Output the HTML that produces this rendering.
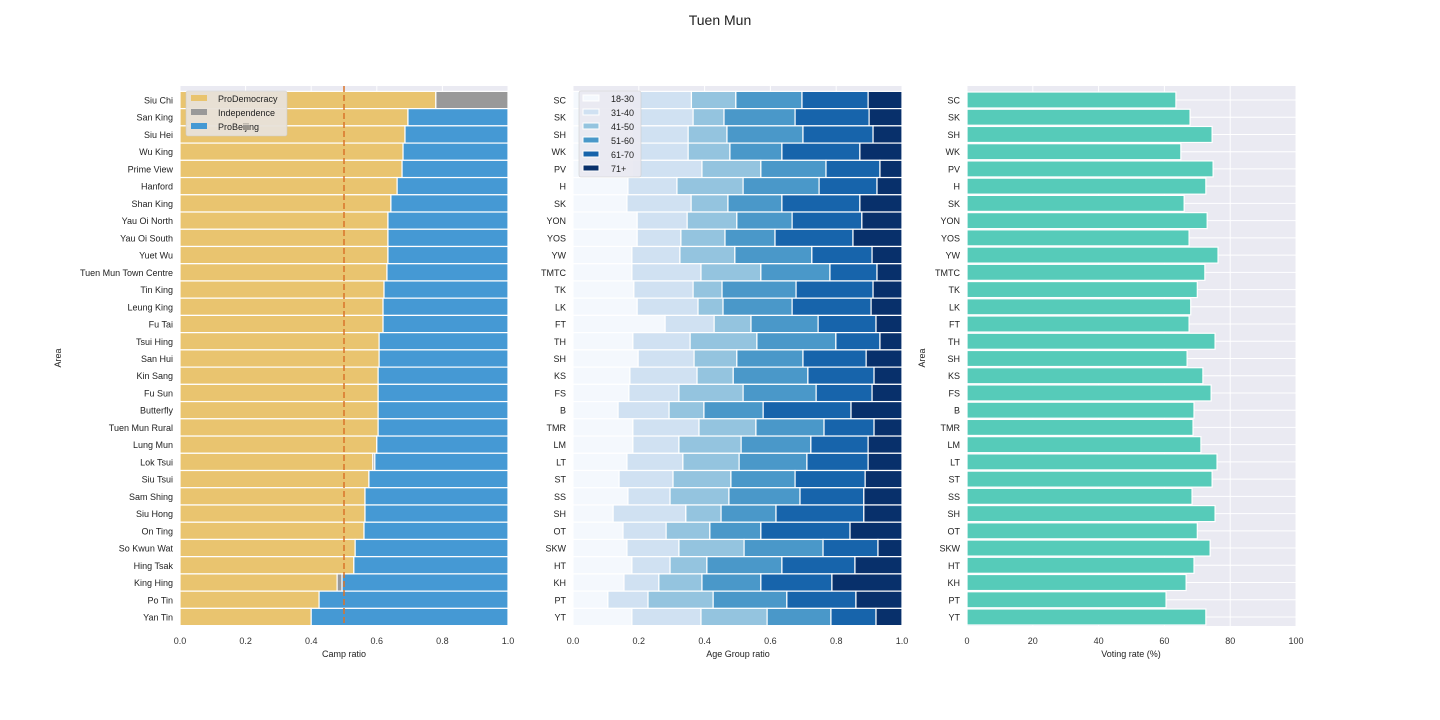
<!DOCTYPE html>
<html><head><meta charset="utf-8"><style>
body{margin:0;background:#fff;}
svg{display:block;font-family:"Liberation Sans",Arial,sans-serif;}
</style></head><body>
<svg id="chart" width="1440" height="720" xmlns="http://www.w3.org/2000/svg">
<text x="720" y="25" text-anchor="middle" font-size="14" fill="#222">Tuen Mun</text>
</svg>
<script>
const areas=["Siu Chi","San King","Siu Hei","Wu King","Prime View","Hanford","Shan King","Yau Oi North","Yau Oi South","Yuet Wu","Tuen Mun Town Centre","Tin King","Leung King","Fu Tai","Tsui Hing","San Hui","Kin Sang","Fu Sun","Butterfly","Tuen Mun Rural","Lung Mun","Lok Tsui","Siu Tsui","Sam Shing","Siu Hong","On Ting","So Kwun Wat","Hing Tsak","King Hing","Po Tin","Yan Tin"];
const codes=["SC","SK","SH","WK","PV","H","SK","YON","YOS","YW","TMTC","TK","LK","FT","TH","SH","KS","FS","B","TMR","LM","LT","ST","SS","SH","OT","SKW","HT","KH","PT","YT"];
const proDemocracy=[.78,.695,.686,.68,.677,.662,.643,.634,.634,.634,.631,.622,.619,.619,.607,.607,.604,.604,.604,.604,.60,.588,.576,.564,.564,.561,.534,.53,.479,.424,.40];
const independence=[.22,0,0,0,0,0,0,0,0,0,0,0,0,0,0,0,0,0,0,0,0,.006,0,0,0,0,0,0,.015,0,0];
const age1830=[.18,.18,.18,.18,.18,.167,.164,.195,.195,.179,.179,.185,.195,.28,.182,.198,.173,.170,.137,.182,.182,.164,.140,.167,.122,.152,.164,.179,.155,.106,.179];
const age3140=[.18,.185,.17,.17,.212,.149,.195,.152,.133,.146,.21,.18,.185,.149,.174,.17,.204,.152,.155,.201,.14,.17,.164,.128,.221,.131,.158,.116,.106,.122,.21];
const age4150=[.135,.094,.118,.127,.179,.201,.112,.151,.134,.167,.182,.088,.076,.112,.203,.13,.11,.195,.106,.173,.189,.171,.176,.179,.107,.133,.198,.112,.131,.198,.201];
const age5160=[.201,.216,.231,.158,.198,.231,.164,.168,.152,.234,.21,.225,.21,.204,.24,.201,.227,.222,.18,.207,.212,.206,.195,.216,.167,.155,.24,.228,.179,.224,.194];
const age6170=[.201,.225,.213,.237,.164,.176,.237,.212,.237,.183,.143,.234,.24,.176,.134,.192,.201,.17,.267,.152,.174,.186,.213,.194,.267,.271,.167,.222,.216,.21,.137];
const voting=[63.5,67.8,74.5,65,74.8,72.6,66,73,67.5,76.3,72.3,70,68,67.5,75.4,66.9,71.7,74.2,69,68.7,71.1,76,74.5,68.4,75.4,70,73.9,69,66.6,60.5,72.6];
const ratioTicks=[0,0.2,0.4,0.6,0.8,1.0];
const voteTicks=[0,20,40,60,80,100];
const ageLabels=["18-30","31-40","41-50","51-60","61-70","71+"];
const campLabels=["ProDemocracy","Independence","ProBeijing"];

const svg=document.getElementById('chart');
const NS='http://www.w3.org/2000/svg';
function mk(tag,attrs,parent){const e=document.createElementNS(NS,tag);for(const k in attrs)e.setAttribute(k,attrs[k]);(parent||svg).appendChild(e);return e;}
const axTop=86,axBot=626,pitch=17.233,y0=100;
function yC(i){return y0+i*pitch;}
function panel(x0,x1,max){return v=>x0+(x1-x0)*v/max;}
const P1=panel(180,508,1),P2=panel(573,902,1),P3=panel(967,1296,100);
const bh=16;
function axesBg(x0,x1,name){const r=mk('rect',{x:x0,y:axTop,width:x1-x0,height:axBot-axTop,fill:'#eaeaf2'});}
function grid(x0,x1,ticks,fx){ticks.forEach(t=>{mk('line',{x1:fx(t),x2:fx(t),y1:axTop,y2:axBot,stroke:'#fff','stroke-width':1});});}
function xticks(ticks,fx,fmt,label,cx,name){ticks.forEach(t=>{const tx=mk('text',{x:fx(t),y:644,'text-anchor':'middle','font-size':9,fill:'#333'});tx.textContent=fmt(t);});
const l=mk('text',{x:cx,y:657,'text-anchor':'middle','font-size':9,fill:'#222'});l.textContent=label;}
function yticks(labels,x){labels.forEach((s,i)=>{const t=mk('text',{x:x,y:yC(i)+3.5,'text-anchor':'end','font-size':9,fill:'#222'});t.textContent=s;});}
function rect(x,y,w,h,fill,name){const r=mk('rect',{x:x,y:y,width:Math.max(0,w),height:h,fill:fill,stroke:'#fff','stroke-width':1.2});return r;}

// Panel 1
axesBg(180,508,'camp-axes');grid(180,508,ratioTicks,P1);
const campColors=['#e9c46f','#999999','#4599d4'];
areas.forEach((a,i)=>{const d=proDemocracy[i],ind=independence[i],b=1-d-ind;
 rect(P1(0),yC(i)-pitch/2,P1(d)-P1(0),pitch,campColors[0],'bar-prodemocracy');
 if(ind>0)rect(P1(d),yC(i)-pitch/2,P1(d+ind)-P1(d),pitch,campColors[1],'bar-independence');
 if(b>0.0001)rect(P1(d+ind),yC(i)-pitch/2,P1(1)-P1(d+ind),pitch,campColors[2],'bar-probeijing');});
const dl=mk('line',{x1:P1(0.5),x2:P1(0.5),y1:axTop,y2:axBot,stroke:'#d9742a','stroke-width':1.5,'stroke-dasharray':'6,3'});

yticks(areas,173);xticks(ratioTicks,P1,t=>t.toFixed(1),'Camp ratio',344,'x-axis-title-camp');
let t=mk('text',{x:0,y:0,'font-size':9,fill:'#222',transform:'translate(61,358) rotate(-90)','text-anchor':'middle'});t.textContent='Area';
let lg=mk('g',{});
mk('rect',{x:186,y:91,width:101,height:45,rx:2,fill:'#e8e2da',stroke:'#ccc','stroke-width':0.6,opacity:0.95},lg);
campLabels.forEach((s,k)=>{mk('rect',{x:191,y:95+k*14,width:16,height:6,fill:campColors[k]},lg);const e=mk('text',{x:218,y:102+k*14,'font-size':9,fill:'#222'},lg);e.textContent=s;});

// Panel 2
axesBg(573,902,'age-axes');grid(573,902,ratioTicks,P2);
const ageColors=['#f4f8fd','#d0e1f2','#94c4df','#4a98c9','#1764ab','#08306b'];
const ageSeries=[age1830,age3140,age4150,age5160,age6170];
codes.forEach((c,i)=>{let cum=0;for(let k=0;k<6;k++){const v=k<5?ageSeries[k][i]:Math.max(0,1-cum);rect(P2(cum),yC(i)-pitch/2,P2(cum+v)-P2(cum),pitch,ageColors[k],'bar-age-'+ageLabels[k]);cum+=v;}});
yticks(codes,566);xticks(ratioTicks,P2,t=>t.toFixed(1),'Age Group ratio',738,'x-axis-title-age');
lg=mk('g',{});
mk('rect',{x:579,y:91,width:62,height:86,rx:2,fill:'#eaeaf2',stroke:'#ccc','stroke-width':0.6,opacity:0.95},lg);
ageLabels.forEach((s,k)=>{mk('rect',{x:583,y:95+k*14,width:16,height:6,fill:ageColors[k],stroke:'#fff','stroke-width':1},lg);const e=mk('text',{x:611,y:102+k*14,'font-size':9,fill:'#222'},lg);e.textContent=s;});

// Panel 3
axesBg(967,1296,'voting-axes');grid(967,1296,voteTicks,P3);
codes.forEach((c,i)=>{mk('line',{x1:967,x2:1296,y1:yC(i),y2:yC(i),stroke:'#fff','stroke-width':1});});
voting.forEach((v,i)=>{rect(P3(0),yC(i)-bh/2,P3(v)-P3(0),bh,'#56cbb9','bar-voting-rate');});
yticks(codes,960);xticks(voteTicks,P3,t=>String(t),'Voting rate (%)',1131,'x-axis-title-voting');
t=mk('text',{x:0,y:0,'font-size':9,fill:'#222',transform:'translate(925,358) rotate(-90)','text-anchor':'middle'});t.textContent='Area';
</script>
</body></html>
